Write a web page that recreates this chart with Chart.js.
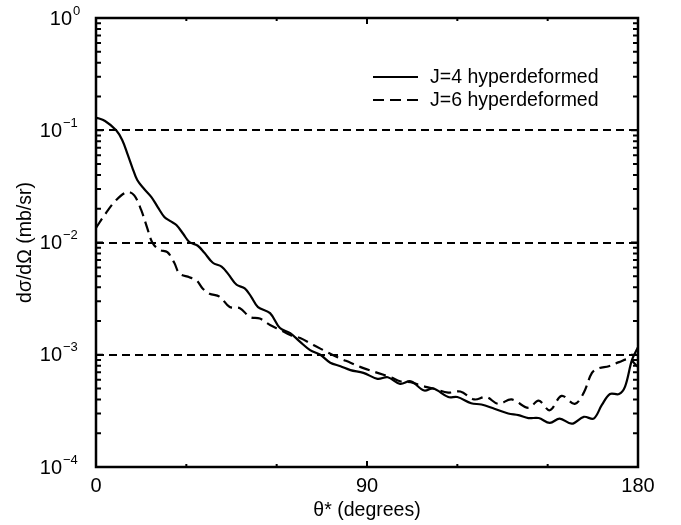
<!DOCTYPE html>
<html>
<head>
<meta charset="utf-8">
<script src="https://cdn.jsdelivr.net/npm/chart.js@4/dist/chart.umd.min.js"></script>
<style>
  html, body { margin: 0; padding: 0; background: #fff; }
  #wrap { width: 681px; height: 525px; }
</style>
</head>
<body>
<div id="wrap"><canvas id="c" width="681" height="525"></canvas></div>
<script>
// Angular distribution dσ/dΩ vs θ* for two hyperdeformed spin assignments
const angleJ4 = [0, 3, 6.7, 8.7, 10.5, 12, 13.7, 16, 18.4, 20.5, 22.7, 24.7, 26.7, 29, 31, 33.7, 36, 38.8, 41.7, 44, 46.7, 49.4, 51.5, 53.8, 57.8, 61.1, 64.5, 67.8, 71.1, 74.5, 77.8, 81.2, 84.5, 88.8, 93.5, 96.9, 101, 104.5, 109, 112, 117, 120, 124.6, 128, 132.3, 136.9, 140.3, 143.6, 147, 150.7, 154, 158, 162, 165.3, 168, 170.7, 173.7, 175.7, 178, 180];
const sigmaJ4 = [0.13, 0.121, 0.1, 0.082, 0.061, 0.047, 0.036, 0.030, 0.0254, 0.0207, 0.0169, 0.0155, 0.0143, 0.0119, 0.0101, 0.0094, 0.0081, 0.0066, 0.0061, 0.0052, 0.0042, 0.0039, 0.0033, 0.00266, 0.00235, 0.00173, 0.00156, 0.0013, 0.0011, 0.0010, 0.00085, 0.00079, 0.00073, 0.00069, 0.00061, 0.00063, 0.00055, 0.00058, 0.00048, 0.00050, 0.00042, 0.00042, 0.00037, 0.00036, 0.00033, 0.00030, 0.00029, 0.000273, 0.000273, 0.000247, 0.00027, 0.000243, 0.00028, 0.00027, 0.000357, 0.000447, 0.000447, 0.00052, 0.0009, 0.00117];

const angleJ6 = [0, 3.3, 6.7, 10.4, 12.7, 15, 17, 18.7, 21, 23.7, 26, 27.7, 31, 33.4, 35.4, 37.7, 41, 44.4, 47.8, 51.1, 54.4, 57.8, 61.1, 64.5, 67.8, 72.2, 75.5, 80.2, 84.5, 88.8, 93.5, 97.9, 101, 104.5, 108, 112, 117, 121, 125.6, 129.6, 133.6, 138, 143.6, 147, 150.7, 154.6, 159, 162, 164.7, 167, 170.3, 173.7, 177, 180];
const sigmaJ6 = [0.0135, 0.0183, 0.0239, 0.0282, 0.0263, 0.0195, 0.0135, 0.010, 0.0086, 0.0082, 0.0066, 0.0053, 0.0049, 0.0046, 0.0039, 0.0035, 0.0033, 0.00266, 0.0026, 0.00217, 0.0021, 0.00184, 0.00167, 0.0015, 0.00141, 0.00122, 0.0011, 0.00095, 0.00085, 0.00076, 0.00069, 0.00063, 0.00058, 0.00057, 0.00053, 0.0005, 0.00046, 0.00047, 0.0004, 0.00042, 0.000365, 0.0004, 0.000336, 0.00039, 0.00032, 0.00043, 0.000365, 0.00046, 0.00069, 0.00076, 0.00079, 0.00086, 0.00091, 0.00078];

const seriesLabels = ['J=4 hyperdeformed', 'J=6 hyperdeformed'];
const xTickValues = [0, 90, 180];
const xMinorTicks = [30, 60, 120, 150];
const yDecadeExponents = [0, -1, -2, -3, -4];
const dashedLevels = [1e-1, 1e-2, 1e-3];

const FONT = '"Liberation Sans", Arial, Helvetica, sans-serif';

const toPoints = (xs, ys) => xs.map((x, i) => ({ x: x, y: ys[i] }));

// Frame, inward ticks, dashed decade lines, superscript decade labels and legend
const framePlugin = {
  id: 'frame',
  beforeDatasetsDraw(chart) {
    const { ctx, chartArea: a, scales: { y } } = chart;
    ctx.save();
    ctx.strokeStyle = '#000';
    ctx.lineWidth = 2;
    ctx.setLineDash([8, 5]);
    dashedLevels.forEach(v => {
      const py = Math.round(y.getPixelForValue(v));
      ctx.beginPath();
      ctx.moveTo(a.left, py);
      ctx.lineTo(a.right, py);
      ctx.stroke();
    });
    ctx.restore();
  },
  afterDatasetsDraw(chart) {
    const { ctx, chartArea: a, scales: { x, y } } = chart;
    ctx.save();
    ctx.strokeStyle = '#000';
    ctx.setLineDash([]);
    // y ticks: decades and minor steps, both sides
    ctx.lineWidth = 2;
    for (let e = -4; e < 0; e++) {
      for (let k = 1; k <= 9; k++) {
        const v = k * Math.pow(10, e);
        const py = y.getPixelForValue(v);
        const len = k === 1 ? 7 : 5;
        ctx.beginPath();
        ctx.moveTo(a.left, py); ctx.lineTo(a.left + len, py);
        ctx.moveTo(a.right, py); ctx.lineTo(a.right - len, py);
        ctx.stroke();
      }
    }
    // x ticks, bottom and top
    const xt = xMinorTicks.map(v => [v, 3]).concat([[90, 6]]);
    xt.forEach(([v, len]) => {
      const px = x.getPixelForValue(v);
      ctx.beginPath();
      ctx.moveTo(px, a.bottom); ctx.lineTo(px, a.bottom - len);
      ctx.moveTo(px, a.top); ctx.lineTo(px, a.top + len);
      ctx.stroke();
    });
    // frame
    ctx.lineWidth = 2.5;
    ctx.strokeRect(a.left, a.top, a.right - a.left, a.bottom - a.top);

    // y decade labels with superscript exponents
    ctx.fillStyle = '#000';
    ctx.textBaseline = 'middle';
    yDecadeExponents.forEach(e => {
      const py = y.getPixelForValue(Math.pow(10, e));
      const exp = e === 0 ? '0' : '\u2212' + (-e);
      const shift = e === 0 ? 10 : 0;
      ctx.font = '20px ' + FONT;
      ctx.textAlign = 'right';
      ctx.fillText('10', a.left - 34 + shift, py + 1);
      ctx.font = '13px ' + FONT;
      ctx.textAlign = 'left';
      ctx.fillText(exp, a.left - 33 + shift, py - 7);
    });

    // legend
    const lx0 = 373, lx1 = 418, ly = [77, 100];
    chart.data.datasets.forEach((ds, i) => {
      ctx.lineWidth = ds.borderWidth;
      ctx.setLineDash(ds.borderDash || []);
      ctx.beginPath();
      ctx.moveTo(lx0, ly[i]);
      ctx.lineTo(lx1, ly[i]);
      ctx.stroke();
      ctx.setLineDash([]);
      ctx.font = '19.5px ' + FONT;
      ctx.textAlign = 'left';
      ctx.textBaseline = 'middle';
      ctx.fillText(ds.label, 430, ly[i] + 1);
    });
    ctx.restore();
  }
};

new Chart(document.getElementById('c'), {
  type: 'line',
  data: {
    datasets: [
      {
        label: seriesLabels[0],
        data: toPoints(angleJ4, sigmaJ4),
        borderColor: '#000',
        borderWidth: 2.2,
        pointRadius: 0,
        tension: 0.35,
        fill: false
      },
      {
        label: seriesLabels[1],
        data: toPoints(angleJ6, sigmaJ6),
        borderColor: '#000',
        borderWidth: 2.2,
        borderDash: [11, 6],
        pointRadius: 0,
        tension: 0.35,
        fill: false
      }
    ]
  },
  options: {
    responsive: false,
    animation: false,
    layout: { padding: { left: 0, right: 43, top: 18, bottom: 0 } },
    plugins: {
      legend: { display: false },
      tooltip: { enabled: false }
    },
    scales: {
      x: {
        type: 'linear',
        min: 0,
        max: 180,
        afterBuildTicks: s => { s.ticks = xTickValues.map(v => ({ value: v })); },
        afterFit: s => { s.height = 58; },
        grid: { display: false, drawTicks: false },
        border: { display: false },
        ticks: {
          color: '#000',
          padding: 7,
          maxRotation: 0,
          font: { family: FONT, size: 20 }
        },
        title: {
          display: true,
          text: 'θ* (degrees)',
          color: '#000',
          font: { family: FONT, size: 19.5 },
          padding: { top: 0, bottom: 3 }
        }
      },
      y: {
        type: 'logarithmic',
        min: 1e-4,
        max: 1,
        afterFit: s => { s.width = 96; },
        grid: { display: false, drawTicks: false },
        border: { display: false },
        ticks: { display: false },
        title: {
          display: true,
          text: 'dσ/dΩ (mb/sr)',
          color: '#000',
          font: { family: FONT, size: 19.5 },
          padding: { top: 14, bottom: 0 }
        }
      }
    }
  },
  plugins: [framePlugin]
});
</script>
</body>
</html>
